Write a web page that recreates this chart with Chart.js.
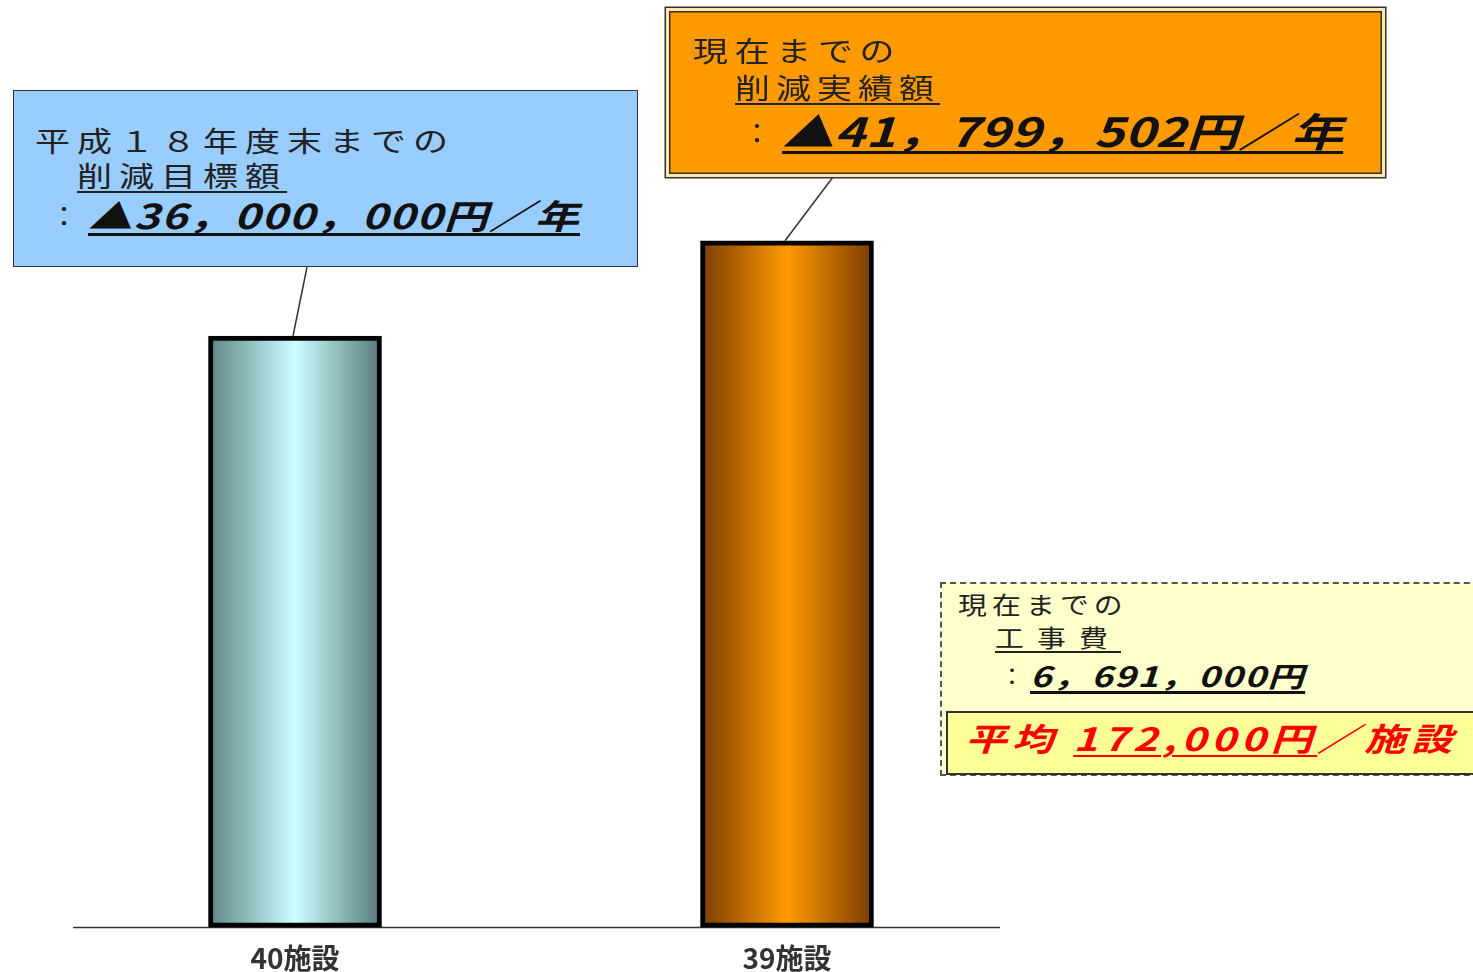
<!DOCTYPE html>
<html lang="ja">
<head>
<meta charset="utf-8">
<script src="https://cdn.jsdelivr.net/npm/chart.js@4.4.1/dist/chart.umd.min.js"></script>
<style>
body { margin: 0; background: #fff; font-family: "Noto Sans CJK JP", "Noto Sans", sans-serif; }
#wrap { position: relative; width: 1473px; height: 972px; overflow: hidden; }
#chart { position: absolute; left: 0; top: 0; }
.box { position: absolute; box-sizing: border-box; }
.ln { position: absolute; white-space: nowrap; line-height: 1; color: #222; transform-origin: left center; }
.u { text-decoration: underline; text-underline-offset: 4px; }
.big { font-weight: bold; font-style: italic; color: #111; text-decoration-thickness: 3px; }
</style>
</head>
<body>
<div id="wrap">
  <canvas id="chart" width="1473" height="1000"></canvas>

  <!-- target box -->
  <div class="box" style="left:13px; top:90px; width:625px; height:177px; background:#99ccff; border:1.5px solid #333;"></div>
  <div class="ln" style="left:35px; top:126px; font-size:28px; letter-spacing:5.6px; transform:scaleX(1.25);">平成１８年度末までの</div>
  <div class="ln u" style="left:77px; top:161px; font-size:28px; letter-spacing:5.6px; transform:scaleX(1.25);">削減目標額</div>
  <div class="ln" style="left:50px; top:201px; font-size:28px;">：</div>
  <div class="ln big u" style="left:88px; top:198px; font-size:34px; letter-spacing:1px; transform:scaleX(1.3);">▲36，000，000円／年</div>

  <!-- actual box -->
  <div class="box" style="left:666px; top:8px; width:719px; height:169px; background:#ff9900; border:3px solid #ffe8a8; box-shadow:0 0 0 1.5px #333, inset 0 0 0 1.5px #333;"></div>
  <div class="ln" style="left:693px; top:36px; font-size:28px; letter-spacing:5.3px; transform:scaleX(1.25);">現在までの</div>
  <div class="ln u" style="left:735px; top:73px; font-size:28px; letter-spacing:4.8px; transform:scaleX(1.25);">削減実績額</div>
  <div class="ln" style="left:743px; top:118px; font-size:28px;">：</div>
  <div class="ln big u" style="left:782px; top:110px; font-size:40px; letter-spacing:0.2px; transform:scaleX(1.3);">▲41，799，502円／年</div>

  <!-- cost box -->
  <div class="box" style="left:940px; top:582px; width:560px; height:194px; background:#ffffcc; border:2px dashed #555;"></div>
  <div class="ln" style="left:958px; top:592px; font-size:24px; letter-spacing:4.3px; transform:scaleX(1.2);">現在までの</div>
  <div class="ln u" style="left:995px; top:625px; font-size:24px; letter-spacing:11px; transform:scaleX(1.2);">工事費</div>
  <div class="ln" style="left:1000px; top:663px; font-size:24px;">：</div>
  <div class="ln big u" style="left:1030px; top:661px; font-size:28px; letter-spacing:1.2px; transform:scaleX(1.3);">6，691，000円</div>
  <div class="box" style="left:946px; top:711px; width:560px; height:64px; background:#ffff99; border:2px solid #333;"></div>
  <div class="ln big" style="left:965px; top:721px; font-size:32px; letter-spacing:4px; color:#ff0000; transform:scaleX(1.3);">平均 <span class="u" style="text-decoration-thickness:2px;">172,000円</span>／施設</div>
</div>

<script>
const categories = ['40施設', '39施設'];
const reductionValues = [36000000, 41799502];
const axisMax = 50000000;

const gradientStops = [
    ['#5b8587', '#ccffff', '#557a7c'],
    ['#7a3c00', '#ff9900', '#7a3c00']
];

// leader lines start at the bottom edge of each note box
const boxAnchors = [
    { x: 307, y: 267 },
    { x: 833, y: 177 }
];

function barGradient(context) {
    const chart = context.chart;
    const xScale = chart.scales.x;
    if (!xScale || !chart.chartArea) return gradientStops[context.dataIndex][1];
    const cx = xScale.getPixelForValue(context.dataIndex);
    const half = 86;
    const g = chart.ctx.createLinearGradient(cx - half, 0, cx + half, 0);
    const stops = gradientStops[context.dataIndex];
    g.addColorStop(0, stops[0]);
    g.addColorStop(0.5, stops[1]);
    g.addColorStop(1, stops[2]);
    return g;
}

const baselinePlugin = {
    id: 'baseline',
    beforeDatasetsDraw(chart) {
        const ctx = chart.ctx;
        const y = chart.chartArea.bottom;
        ctx.save();
        ctx.strokeStyle = '#333';
        ctx.lineWidth = 1.5;
        ctx.beginPath();
        ctx.moveTo(73, y);
        ctx.lineTo(1000, y);
        ctx.stroke();
        ctx.restore();
    }
};

const leaderPlugin = {
    id: 'leaders',
    afterDatasetsDraw(chart) {
        const ctx = chart.ctx;
        const bars = chart.getDatasetMeta(0).data;
        ctx.save();
        ctx.strokeStyle = '#333';
        ctx.lineWidth = 1.5;
        boxAnchors.forEach((a, i) => {
            const bar = bars[i];
            ctx.beginPath();
            ctx.moveTo(a.x, a.y);
            ctx.lineTo(bar.x - 2, bar.y);
            ctx.stroke();
        });
        ctx.restore();
    }
};

new Chart(document.getElementById('chart').getContext('2d'), {
    type: 'bar',
    data: {
        labels: categories,
        datasets: [{
            data: reductionValues,
            backgroundColor: barGradient,
            borderColor: '#000',
            borderWidth: 5,
            borderSkipped: false,
            barThickness: 173
        }]
    },
    options: {
        responsive: false,
        animation: false,
        layout: {
            padding: { left: 49, right: 440, top: 106, bottom: 11 }
        },
        plugins: {
            legend: { display: false },
            tooltip: { enabled: false }
        },
        scales: {
            x: {
                grid: { display: false, drawTicks: false },
                border: { display: false },
                ticks: {
                    padding: 14,
                    color: '#333',
                    font: { family: '"Noto Sans CJK JP"', size: 28, weight: 'bold' }
                }
            },
            y: {
                display: false,
                min: 0,
                max: axisMax
            }
        }
    },
    plugins: [baselinePlugin, leaderPlugin]
});
</script>
</body>
</html>
